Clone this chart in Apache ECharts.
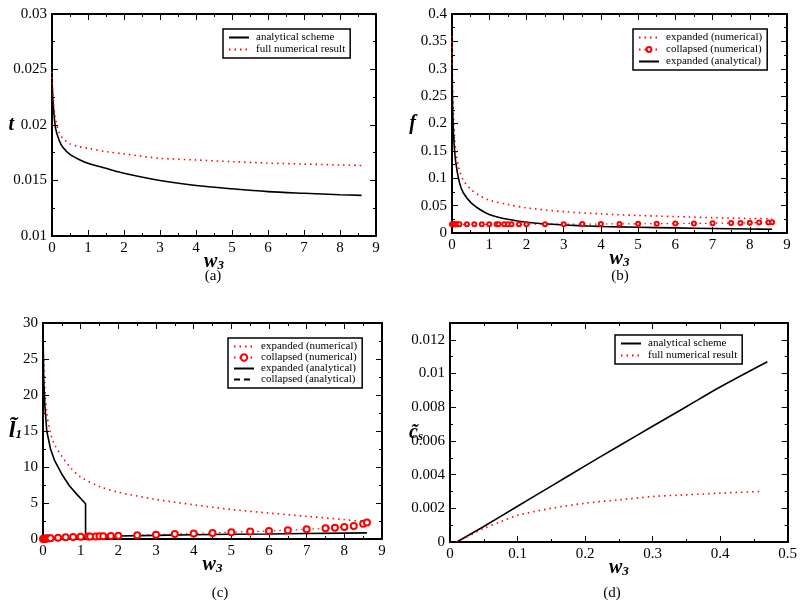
<!DOCTYPE html>
<html>
<head>
<meta charset="utf-8">
<script src="https://cdn.jsdelivr.net/npm/echarts@6/dist/echarts.min.js"></script>
<style>
  html, body { margin: 0; padding: 0; background: #fff; }
  #main { width: 800px; height: 606px; }
</style>
</head>
<body>
<div id="main"></div>
<script>
// (a) t vs w3
const aW = [0, 0.02, 0.05, 0.1, 0.2, 0.3, 0.5, 0.75, 1, 1.5, 2, 3, 4, 5, 6, 7, 8, 8.6];
const aAnalytical = [0.0242, 0.0226, 0.0212, 0.0197, 0.0186, 0.018, 0.01735, 0.0169, 0.01655, 0.0161, 0.01565, 0.015, 0.01455, 0.01425, 0.014, 0.01385, 0.01372, 0.01366];
const aNumerical = [0.0248, 0.0232, 0.0218, 0.0205, 0.0193, 0.0188, 0.0183, 0.01805, 0.0179, 0.0176, 0.0174, 0.017, 0.01685, 0.0167, 0.01657, 0.01648, 0.0164, 0.01635];

// (b) f vs w3
const bW = [0, 0.02, 0.05, 0.1, 0.2, 0.3, 0.5, 0.75, 1, 1.5, 2, 3, 4, 5, 6, 7, 8, 8.6];
const bExpNum = [0.36, 0.26, 0.2, 0.15, 0.115, 0.097, 0.08, 0.068, 0.06, 0.052, 0.046, 0.039, 0.035, 0.032, 0.03, 0.028, 0.0265, 0.026];
const bExpAna = [0.3, 0.22, 0.17, 0.13, 0.092, 0.074, 0.056, 0.043, 0.034, 0.025, 0.0195, 0.0145, 0.012, 0.0105, 0.0093, 0.0083, 0.0073, 0.0068];
const colW = [0, 0.02, 0.04, 0.06, 0.08, 0.1, 0.15, 0.2, 0.4, 0.6, 0.8, 1, 1.2, 1.25, 1.4, 1.5, 1.6, 1.8, 2, 2.5, 3, 3.5, 4, 4.5, 5, 5.5, 6, 6.5, 7, 7.5, 7.75, 8, 8.25, 8.5, 8.6];
const bColNum = [0.0158, 0.0158, 0.0158, 0.0158, 0.0158, 0.0158, 0.0158, 0.0158, 0.0159, 0.0159, 0.0159, 0.0159, 0.016, 0.016, 0.016, 0.016, 0.016, 0.016, 0.016, 0.0161, 0.0162, 0.0163, 0.0164, 0.0166, 0.0168, 0.017, 0.0172, 0.0175, 0.0178, 0.0182, 0.0184, 0.0187, 0.019, 0.0194, 0.0196];

// (c) l1 vs w3
const cW = [0, 0.02, 0.05, 0.1, 0.2, 0.3, 0.5, 0.75, 1, 1.5, 2, 3, 4, 5, 6, 7, 8, 8.6];
const cExpNum = [28, 24.5, 21, 17.5, 14.7, 13.2, 11.5, 9.8, 8.6, 7.3, 6.5, 5.5, 4.75, 4.1, 3.6, 3.15, 2.7, 2.35];
const cExpAnaW = [0, 0.02, 0.05, 0.1, 0.2, 0.3, 0.5, 0.7, 0.9, 1.13, 1.13, 2, 3, 4, 5, 6, 7, 8, 8.6];
const cExpAna = [29, 22, 18.5, 15, 12.5, 11, 9, 7.4, 6.2, 4.9, 0.35, 0.42, 0.5, 0.58, 0.65, 0.7, 0.76, 0.82, 0.85];
const cColAnaW = [0, 0.2, 0.4, 0.6, 0.8, 1, 1.13];
const cColAna = [0.02, 0.1, 0.17, 0.23, 0.28, 0.32, 0.35];
const cColNum = [0, 0.02, 0.04, 0.05, 0.06, 0.08, 0.1, 0.12, 0.18, 0.23, 0.27, 0.3, 0.33, 0.34, 0.36, 0.37, 0.39, 0.42, 0.45, 0.52, 0.6, 0.68, 0.76, 0.85, 0.94, 1.03, 1.12, 1.23, 1.35, 1.48, 1.56, 1.65, 1.82, 2.12, 2.3];

// (d) cs vs w3
const dW = [0.01, 0.05, 0.1, 0.15, 0.2, 0.25, 0.3, 0.35, 0.4, 0.47];
const dAnalytical = [0, 0.00092, 0.00212, 0.00332, 0.00452, 0.0057, 0.00687, 0.00803, 0.0092, 0.0107];
const dNumW = [0.01, 0.03, 0.05, 0.075, 0.1, 0.15, 0.2, 0.25, 0.3, 0.35, 0.4, 0.46];
const dNumerical = [0, 0.0004, 0.0008, 0.0012, 0.00158, 0.002, 0.0023, 0.0025, 0.0027, 0.0028, 0.0029, 0.003];

const FONT = 'Liberation Serif';
const RED = '#ff0000';
const DOT = [1.5, 4];

const zip = (xs, ys) => xs.map((x, i) => [x, ys[i]]);

const grids = [
  { left: 52, top: 14, width: 324, height: 222 },
  { left: 452, top: 14, width: 335, height: 219 },
  { left: 43, top: 323, width: 339, height: 216 },
  { left: 450, top: 323, width: 338, height: 219 }
];

const ranges = [
  { x: [0, 9, 1], y: [0.01, 0.03, 0.005] },
  { x: [0, 9, 1], y: [0, 0.4, 0.05] },
  { x: [0, 9, 1], y: [0, 30, 5] },
  { x: [0, 0.5, 0.1], y: [0, 0.013, 0.002] }
];

const yNames = [
  '{i|t}',
  '{i|f}',
  '{b|l\u0303}{s|1}',
  '{i|c\u0303}{s|s}'
];
const yNameGaps = [38, 36, 21, 27];

const nameRich = {
  i: { fontFamily: FONT, fontSize: 20, fontWeight: 'bold', fontStyle: 'italic', color: '#000' },
  b: { fontFamily: FONT, fontSize: 24, fontWeight: 'bold', fontStyle: 'italic', color: '#000' },
  s: { fontFamily: FONT, fontSize: 13, fontWeight: 'bold', fontStyle: 'italic', color: '#000', padding: [8, 0, 0, 0] }
};

const xAxis = [];
const yAxis = [];
function baseAxis(gi, pos, r, main) {
  return {
    type: 'value', gridIndex: gi, position: pos,
    min: r[0], max: r[1], interval: r[2],
    nameMoveOverlap: false,
    axisLine: { show: true, onZero: false, lineStyle: { color: '#000', width: 2 } },
    axisTick: { show: true, inside: true, length: 6, lineStyle: { color: '#000', width: 1 } },
    minorTick: { show: true, splitNumber: 2, length: 3, lineStyle: { color: '#000', width: 1 } },
    splitLine: { show: false },
    axisLabel: { show: main, fontFamily: FONT, fontSize: 15, color: '#000', margin: 5, showMaxLabel: gi === 3 && pos === 'left' ? false : null }
  };
}
grids.forEach((g, gi) => {
  const r = ranges[gi];
  xAxis.push(Object.assign(baseAxis(gi, 'bottom', r.x, true), {
    name: '{i|w}{s|3}', nameLocation: 'middle', nameGap: 15,
    nameTextStyle: { rich: nameRich }
  }));
  xAxis.push(baseAxis(gi, 'top', r.x, false));
  yAxis.push(Object.assign(baseAxis(gi, 'left', r.y, true), {
    name: yNames[gi], nameLocation: 'middle', nameRotate: 0, nameGap: yNameGaps[gi],
    nameTextStyle: { rich: nameRich }
  }));
  yAxis.push(baseAxis(gi, 'right', r.y, false));
});

function line(name, gi, data, style, extra) {
  return Object.assign({
    type: 'line', name: name, xAxisIndex: gi * 2, yAxisIndex: gi * 2,
    data: data, symbol: 'none', smooth: 0.3,
    lineStyle: style, itemStyle: { color: style.color }
  }, extra || {});
}
const solid = { color: '#000', width: 1.6, type: 'solid' };
const dotted = { color: RED, width: 1.6, type: DOT };

const series = [
  line('analytical scheme', 0, zip(aW, aAnalytical), solid),
  line('full numerical result', 0, zip(aW, aNumerical), dotted),

  line('expanded (numerical)', 1, zip(bW, bExpNum), dotted),
  line('collapsed (numerical)', 1, zip(colW, bColNum), { color: RED, width: 1.2, type: DOT }, {
    symbol: 'emptyCircle', symbolSize: 4, showAllSymbol: true, smooth: false,
    itemStyle: { color: RED, borderColor: RED, borderWidth: 1.2 }
  }),
  line('expanded (analytical)', 1, zip(bW, bExpAna), solid),

  line('expanded (numerical)', 2, zip(cW, cExpNum), dotted),
  line('collapsed (numerical)', 2, zip(colW, cColNum), { color: RED, width: 1.2, type: DOT }, {
    symbol: 'emptyCircle', symbolSize: 6, showAllSymbol: true, smooth: false,
    itemStyle: { color: RED, borderColor: RED, borderWidth: 1.5 }
  }),
  line('expanded (analytical)', 2, zip(cExpAnaW, cExpAna), solid, { smooth: false }),
  line('collapsed (analytical)', 2, zip(cColAnaW, cColAna), { color: '#000', width: 1.6, type: [6, 4] }),

  line('analytical scheme', 3, zip(dW, dAnalytical), solid),
  line('full numerical result', 3, zip(dNumW, dNumerical), dotted)
];

// series drawn without markers get no marker in their legend icon
const withMarks = ['collapsed (numerical)'];
function legend(left, top, names, symSize, gap) {
  return {
    left: left, top: top, orient: 'vertical', itemGap: gap,
    itemWidth: 20, itemHeight: symSize, padding: [3, 5, 3, 5],
    borderColor: '#000', borderWidth: 1.5, backgroundColor: '#fff',
    data: names.map(n => withMarks.includes(n) ? { name: n } : { name: n, itemStyle: { opacity: 0 } }),
    textStyle: { fontFamily: FONT, fontSize: 11, color: '#000', padding: [0, 0, 0, 2], lineHeight: 11 },
    selectedMode: false
  };
}

const legends = [
  legend(223, 29, ['analytical scheme', 'full numerical result'], 8, 1),
  legend(633, 29, ['expanded (numerical)', 'collapsed (numerical)', 'expanded (analytical)'], 6, 1),
  legend(228, 338, ['expanded (numerical)', 'collapsed (numerical)', 'expanded (analytical)', 'collapsed (analytical)'], 8, 0),
  legend(615, 335, ['analytical scheme', 'full numerical result'], 8, 1)
];

const captions = [['(a)', 213, 269], ['(b)', 620, 269], ['(c)', 220, 586], ['(d)', 612, 586]];

const chart = echarts.init(document.getElementById('main'));
chart.setOption({
  animation: false,
  backgroundColor: '#fff',
  grid: grids,
  xAxis: xAxis,
  yAxis: yAxis,
  legend: legends,
  title: captions.map(c => ({
    text: c[0], left: c[1], top: c[2], textAlign: 'center', padding: 0,
    textStyle: { fontFamily: FONT, fontSize: 15, fontWeight: 'normal', color: '#000' }
  })),
  series: series
});
</script>
</body>
</html>
